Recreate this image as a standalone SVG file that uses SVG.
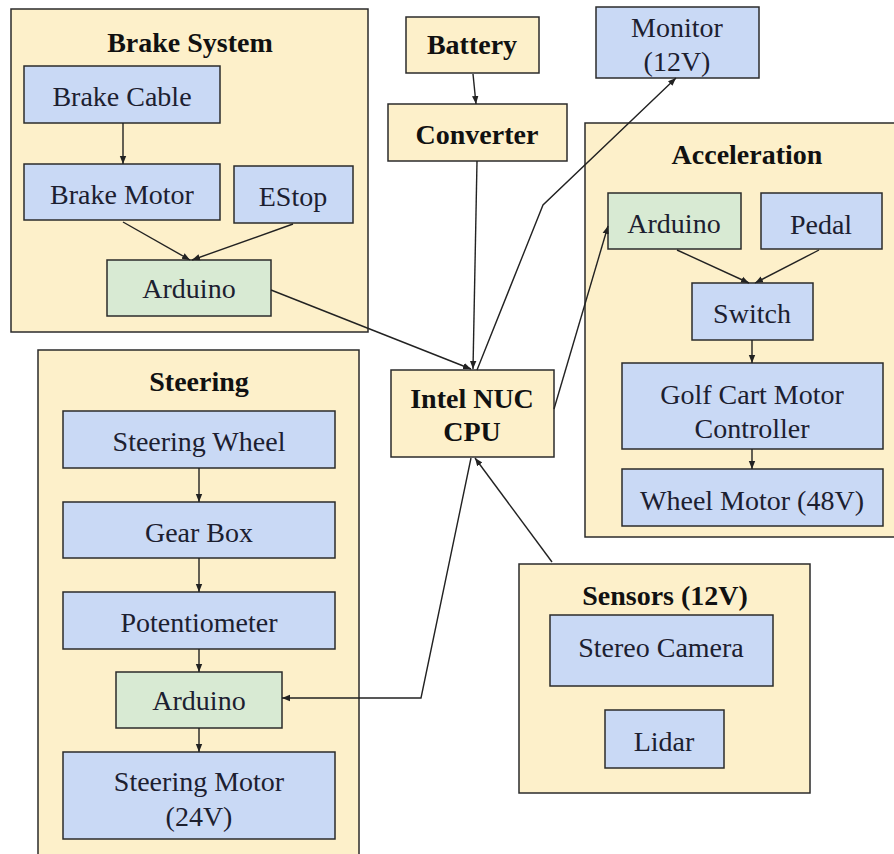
<svg xmlns="http://www.w3.org/2000/svg" width="894" height="854" viewBox="0 0 894 854">
<defs>
<style>
.grp{fill:#fdf0ca;stroke:#2b2b2b;stroke-width:1.5}
.y{fill:#fdf0ca;stroke:#2b2b2b;stroke-width:1.5}
.b{fill:#c9d9f5;stroke:#2b2b2b;stroke-width:1.5}
.g{fill:#d8ead3;stroke:#2b2b2b;stroke-width:1.5}
text{font-family:"Liberation Serif","Times New Roman",Times,serif;font-size:28px;fill:#1c2030;text-anchor:middle}
.t{font-weight:bold;fill:#111}
.c{fill:none;stroke:#222;stroke-width:1.4;marker-end:url(#ah)}
</style>
<marker id="ah" viewBox="0 0 10 10" refX="10" refY="5" markerWidth="8" markerHeight="8" markerUnits="userSpaceOnUse" orient="auto"><path d="M0,1 L10,5 L0,9 z" fill="#222"/></marker>
</defs>
<rect width="894" height="854" fill="#fff"/>

<g id="brake-system">
<rect class="grp" x="11" y="9" width="357" height="323"/>
<text class="t" x="190" y="52">Brake System</text>
</g>
<g id="brake-cable"><rect class="b" x="24" y="66" width="196" height="57"/><text x="122" y="106">Brake Cable</text></g>
<g id="brake-motor"><rect class="b" x="24" y="164" width="196" height="56"/><text x="122" y="204">Brake Motor</text></g>
<g id="estop"><rect class="b" x="234" y="166" width="119" height="57"/><text x="293" y="206">EStop</text></g>
<g id="brake-arduino"><rect class="g" x="107" y="260" width="164" height="56"/><text x="189" y="298">Arduino</text></g>

<g id="battery"><rect class="y" x="406" y="17" width="133" height="56"/><text class="t" x="472" y="54">Battery</text></g>
<g id="converter"><rect class="y" x="388" y="104" width="179" height="57"/><text class="t" x="477" y="144">Converter</text></g>
<g id="monitor"><rect class="b" x="596" y="7" width="163" height="71"/><text x="677" y="37">Monitor</text><text x="677" y="71">(12V)</text></g>

<g id="acceleration">
<rect class="grp" x="585" y="123" width="312" height="414"/>
<text class="t" x="747" y="164">Acceleration</text>
</g>
<g id="accel-arduino"><rect class="g" x="608" y="193" width="133" height="56"/><text x="674" y="233">Arduino</text></g>
<g id="pedal"><rect class="b" x="761" y="193" width="121" height="56"/><text x="821" y="234">Pedal</text></g>
<g id="switch"><rect class="b" x="692" y="283" width="121" height="57"/><text x="752" y="323">Switch</text></g>
<g id="golf-cart-controller"><rect class="b" x="622" y="363" width="261" height="86"/><text x="752" y="404">Golf Cart Motor</text><text x="752" y="438">Controller</text></g>
<g id="wheel-motor"><rect class="b" x="622" y="469" width="261" height="57"/><text x="752" y="510">Wheel Motor (48V)</text></g>

<g id="intel-nuc"><rect class="y" x="391" y="370" width="163" height="87"/><text class="t" x="472" y="408">Intel NUC</text><text class="t" x="472" y="441">CPU</text></g>

<g id="steering">
<rect class="grp" x="38" y="350" width="321" height="520"/>
<text class="t" x="199" y="391">Steering</text>
</g>
<g id="steering-wheel"><rect class="b" x="63" y="411" width="272" height="57"/><text x="199" y="451">Steering Wheel</text></g>
<g id="gear-box"><rect class="b" x="63" y="502" width="272" height="56"/><text x="199" y="542">Gear Box</text></g>
<g id="potentiometer"><rect class="b" x="63" y="592" width="272" height="57"/><text x="199" y="632">Potentiometer</text></g>
<g id="steering-arduino"><rect class="g" x="116" y="672" width="166" height="56"/><text x="199" y="710">Arduino</text></g>
<g id="steering-motor"><rect class="b" x="63" y="752" width="272" height="87"/><text x="199" y="791">Steering Motor</text><text x="199" y="826">(24V)</text></g>

<g id="sensors">
<rect class="grp" x="519" y="564" width="291" height="229"/>
<text class="t" x="665" y="605">Sensors (12V)</text>
</g>
<g id="stereo-camera"><rect class="b" x="550" y="615" width="223" height="71"/><text x="661" y="657">Stereo Camera</text></g>
<g id="lidar"><rect class="b" x="605" y="710" width="119" height="58"/><text x="664" y="751">Lidar</text></g>

<g id="connectors">
<line class="c" x1="123" y1="123" x2="123" y2="164"/>
<line class="c" x1="123" y1="222" x2="190" y2="260"/>
<line class="c" x1="293" y1="224" x2="192" y2="260"/>
<line class="c" x1="271" y1="290" x2="471" y2="369"/>
<line class="c" x1="473" y1="74" x2="476" y2="104"/>
<polyline class="c" points="477,161 473,369"/>
<polyline class="c" points="477,370 543,205 676,78"/>
<line class="c" x1="554" y1="409" x2="608" y2="226"/>
<line class="c" x1="677" y1="250" x2="749" y2="283"/>
<line class="c" x1="819" y1="250" x2="755" y2="283"/>
<line class="c" x1="752" y1="340" x2="752" y2="363"/>
<line class="c" x1="752" y1="449" x2="752" y2="469"/>
<line class="c" x1="552" y1="562" x2="475" y2="458"/>
<polyline class="c" points="471,458 421,698 282,698"/>
<line class="c" x1="199" y1="468" x2="199" y2="502"/>
<line class="c" x1="199" y1="558" x2="199" y2="592"/>
<line class="c" x1="199" y1="649" x2="199" y2="672"/>
<line class="c" x1="199" y1="728" x2="199" y2="752"/>
</g>
</svg>
